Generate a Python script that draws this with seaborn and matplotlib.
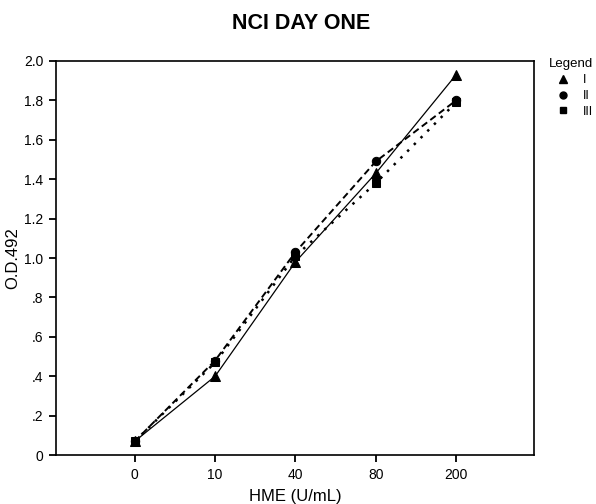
import matplotlib
matplotlib.use("Agg")
import matplotlib.pyplot as plt
from matplotlib.lines import Line2D
import seaborn as sns
import pandas as pd

# HME concentrations (U/mL) shown as evenly spaced categories
doses = ["0", "10", "40", "80", "200"]
od_I = [0.07, 0.40, 0.98, 1.43, 1.93]
od_II = [0.07, 0.48, 1.03, 1.49, 1.80]
od_III = [0.07, 0.47, 1.01, 1.38, 1.79]
series_names = ["I", "II", "III"]
y_ticks = [0, 0.2, 0.4, 0.6, 0.8, 1.0, 1.2, 1.4, 1.6, 1.8, 2.0]
y_tick_labels = ["0", ".2", ".4", ".6", ".8", "1.0", "1.2", "1.4", "1.6", "1.8", "2.0"]

sns.set_theme(style="ticks")
plt.rcParams["font.family"] = ["Liberation Sans", "DejaVu Sans"]
plt.rcParams.update({
    "text.color": "black", "axes.labelcolor": "black",
    "xtick.color": "black", "ytick.color": "black",
    "axes.edgecolor": "black",
})

pos = list(range(len(doses)))
df = pd.concat([
    pd.DataFrame({"pos": pos, "od": vals, "series": name})
    for name, vals in zip(series_names, [od_I, od_II, od_III])
])

fig = plt.figure(figsize=(5.96, 5.04), dpi=100)
ax = fig.add_axes([0.094, 0.097, 0.802, 0.782])

styles = {
    "I": dict(marker="^", ls="-", lw=0.9, ms=7),
    "II": dict(marker="o", ls=(0, (3.5, 2)), lw=1.4, ms=6),
    "III": dict(marker="s", ls=(0, (1, 2.8)), lw=1.8, ms=5.5),
}
for name in series_names:
    st = styles[name]
    sns.lineplot(data=df[df.series == name], x="pos", y="od", ax=ax,
                 color="black", marker=st["marker"], linestyle=st["ls"],
                 linewidth=st["lw"], markersize=st["ms"],
                 markeredgecolor="black", markerfacecolor="black",
                 legend=False)

ax.set_xlim(-0.98, 4.97)
ax.set_ylim(0, 2.0)
ax.set_xticks(pos)
ax.set_xticklabels(doses)
ax.set_yticks(y_ticks)
ax.set_yticklabels(y_tick_labels)
ax.tick_params(axis="both", which="major", direction="out", length=5, width=1.3,
               color="black", labelsize=10, bottom=True, left=True,
               top=False, right=False, pad=4)
for sp in ax.spines.values():
    sp.set_visible(True)
    sp.set_color("black")
    sp.set_linewidth(1.2)

ax.set_xlabel("HME (U/mL)", fontsize=12)
ax.set_ylabel("O.D.492", fontsize=12)
ax.xaxis.set_label_coords(0.5, -0.085)
ax.yaxis.set_label_coords(-0.075, 0.5)
fig.suptitle("NCI DAY ONE", fontsize=15.5, fontweight="bold", x=0.505, y=0.975)

handles = [
    Line2D([], [], color="black", marker="^", ls="none", ms=6),
    Line2D([], [], color="black", marker="o", ls="none", ms=5),
    Line2D([], [], color="black", marker="s", ls="none", ms=4.5),
]
leg = fig.legend(handles, series_names, title="Legend", loc="upper left",
                 bbox_to_anchor=(0.921, 0.884), frameon=False, fontsize=9,
                 title_fontsize=9.5, handlelength=2.2, handletextpad=0.5,
                 labelspacing=0.3, borderpad=0, borderaxespad=0)
leg._legend_box.align = "left"

fig.savefig("out.png", dpi=100)
